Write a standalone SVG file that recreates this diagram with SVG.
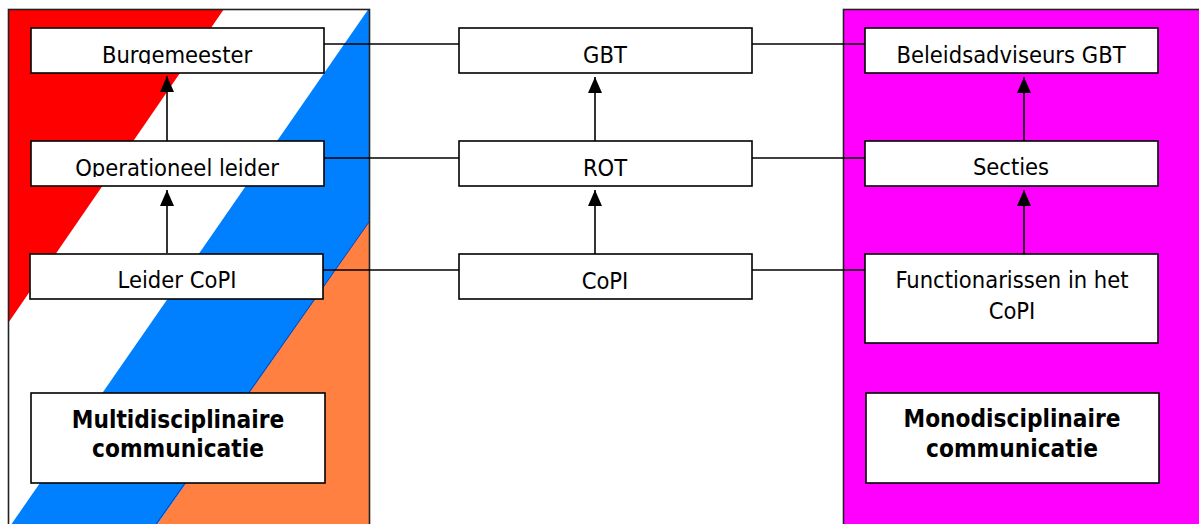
<svg xmlns="http://www.w3.org/2000/svg" width="1199" height="524" viewBox="0 0 1199 524">
  <style>
    .box { fill: #ffffff; stroke: #000000; stroke-width: 1.6; }
    .panel { fill: none; stroke: #222222; stroke-width: 1.6; }
    .lbl { font-family: "DejaVu Sans Condensed", "DejaVu Sans", Verdana, sans-serif; font-stretch: condensed; font-size: 23.5px; fill: #000000; text-anchor: middle; }
    .bold { font-family: "DejaVu Sans Condensed", "DejaVu Sans", Verdana, sans-serif; font-stretch: condensed; font-size: 24.2px; font-weight: bold; fill: #000000; text-anchor: middle; }
    .conn { stroke: #000000; stroke-width: 1.6; fill: none; }
    .arr { stroke: #000000; stroke-width: 1.6; fill: none; marker-end: url(#ah); }
  </style>
  <defs>
    <marker id="ah" viewBox="0 0 16 14" markerWidth="16" markerHeight="14" refX="16" refY="7" orient="auto" markerUnits="userSpaceOnUse">
      <path d="M0,0 L16,7 L0,14 z" fill="#000000"/>
    </marker>
    <clipPath id="leftPanel">
      <rect x="8.5" y="9.5" width="361" height="520"/>
    </clipPath>
    <clipPath id="clipRow1">
      <rect x="0" y="0" width="400" height="64"/>
    </clipPath>
    <clipPath id="clipRow2">
      <rect x="0" y="100" width="400" height="77"/>
    </clipPath>
  </defs>

  <rect width="1199" height="524" fill="#ffffff"/>

  <!-- Left panel (flag stripes) -->
  <g id="panel-multi">
    <g clip-path="url(#leftPanel)">
      <rect x="8" y="9" width="362" height="521" fill="#ffffff"/>
      <polygon points="0,9 224,9 0,335" fill="#ff0000"/>
      <polygon points="372,4 372,222 152,532 6,532" fill="#0080ff"/>
      <polygon points="372,218 372,532 152,532" fill="#ff8040"/>
      <line x1="369" y1="222" x2="152" y2="530" stroke="#1030a0" stroke-width="0.8"/>
    </g>
    <rect class="panel" x="8.5" y="9.5" width="361" height="520"/>
  </g>

  <!-- Right panel -->
  <g id="panel-mono">
    <rect x="843.5" y="9.5" width="370" height="520" fill="#ff00ff" stroke="#222222" stroke-width="1.6"/>
  </g>

  <!-- Connectors -->
  <g id="connectors">
    <line class="conn" x1="324" y1="44" x2="459" y2="44"/>
    <line class="conn" x1="752" y1="44" x2="865" y2="44"/>
    <line class="conn" x1="324" y1="158" x2="459" y2="158"/>
    <line class="conn" x1="752" y1="158" x2="865" y2="158"/>
    <line class="conn" x1="323" y1="270" x2="459" y2="270"/>
    <line class="conn" x1="752" y1="270" x2="865" y2="270"/>

    <line class="arr" x1="167" y1="141" x2="167" y2="76"/>
    <line class="arr" x1="167" y1="253" x2="167" y2="190"/>
    <line class="arr" x1="595" y1="141" x2="595" y2="77"/>
    <line class="arr" x1="595" y1="254" x2="595" y2="190"/>
    <line class="arr" x1="1024" y1="141" x2="1024" y2="77"/>
    <line class="arr" x1="1024" y1="254" x2="1024" y2="190"/>
  </g>

  <!-- Left column nodes -->
  <g id="burgemeester">
    <rect class="box" x="31" y="28" width="293" height="45"/>
    <text class="lbl" x="177" y="63" clip-path="url(#clipRow1)">Burgemeester</text>
  </g>
  <g id="operationeel-leider">
    <rect class="box" x="31" y="141" width="293" height="45"/>
    <text class="lbl" x="177" y="176" clip-path="url(#clipRow2)">Operationeel leider</text>
  </g>
  <g id="leider-copi">
    <rect class="box" x="30" y="254" width="293" height="45"/>
    <text class="lbl" x="177" y="288">Leider CoPI</text>
  </g>
  <g id="multidisciplinaire">
    <rect class="box" x="31" y="393" width="294" height="90"/>
    <text class="bold" x="178" y="428">Multidisciplinaire</text>
    <text class="bold" x="178" y="457">communicatie</text>
  </g>

  <!-- Middle column nodes -->
  <g id="gbt">
    <rect class="box" x="459" y="28" width="293" height="45"/>
    <text class="lbl" x="605" y="63">GBT</text>
  </g>
  <g id="rot">
    <rect class="box" x="459" y="141" width="293" height="45"/>
    <text class="lbl" x="605" y="176">ROT</text>
  </g>
  <g id="copi">
    <rect class="box" x="459" y="254" width="293" height="45"/>
    <text class="lbl" x="605" y="289">CoPI</text>
  </g>

  <!-- Right column nodes -->
  <g id="beleidsadviseurs-gbt">
    <rect class="box" x="865" y="28" width="293" height="45"/>
    <text class="lbl" x="1011" y="63">Beleidsadviseurs GBT</text>
  </g>
  <g id="secties">
    <rect class="box" x="865" y="141" width="293" height="45"/>
    <text class="lbl" x="1011" y="175">Secties</text>
  </g>
  <g id="functionarissen">
    <rect class="box" x="865" y="254" width="293" height="89"/>
    <text class="lbl" x="1012" y="288">Functionarissen in het</text>
    <text class="lbl" x="1012" y="319">CoPI</text>
  </g>
  <g id="monodisciplinaire">
    <rect class="box" x="866" y="393" width="293" height="90"/>
    <text class="bold" x="1012" y="427">Monodisciplinaire</text>
    <text class="bold" x="1012" y="457">communicatie</text>
  </g>
</svg>
